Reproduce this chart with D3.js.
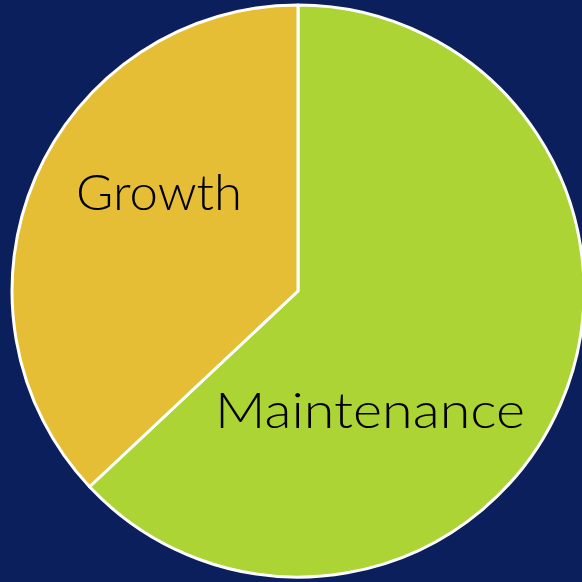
<!DOCTYPE html>
<html>
<head>
<meta charset="utf-8">
<script src="https://cdn.jsdelivr.net/npm/d3@7"></script>
<style>
html,body{margin:0;padding:0;background:#0a1f5c;}
svg{display:block;}
</style>
</head>
<body>
<svg id="chart" width="582" height="582"></svg>
<script>
const categories = ["Maintenance", "Growth"];
const values = [63, 37];
const colors = ["#acd434", "#e6be36"];

const W = 582, H = 582;
const cx = 298, cy = 291, R = 286;
// label anchor points (relative to pie center), start-anchored text
const labelLayout = [
  {dx: -83, dy: 137, width: 310},
  {dx: -222, dy: -81, width: 166}
];

const svg = d3.select("#chart");
svg.append("rect").attr("width", W).attr("height", H).attr("fill", "#0a1f5c");

const pie = d3.pie().sort(null).value(d => d)(values);
const arc = d3.arc().innerRadius(0).outerRadius(R);
const color = d3.scaleOrdinal().domain(categories).range(colors);

const g = svg.append("g").attr("transform", `translate(${cx},${cy})`);
g.selectAll("path").data(pie).join("path")
  .attr("d", arc)
  .attr("fill", (d, i) => color(categories[i]))
  .attr("stroke", "#ffffff")
  .attr("stroke-width", 3)
  .attr("stroke-linejoin", "round");

g.selectAll("text.lbl").data(pie).join("text")
  .attr("class", "lbl")
  .attr("x", (d, i) => labelLayout[i].dx)
  .attr("y", (d, i) => labelLayout[i].dy)
  .attr("textLength", (d, i) => labelLayout[i].width)
  .attr("lengthAdjust", "spacingAndGlyphs")
  .attr("font-family", "Lato, 'DejaVu Sans', sans-serif")
  .attr("font-weight", 300)
  .attr("font-size", 49)
  .attr("fill", "#000000")
  .text((d, i) => categories[i]);
</script>
</body>
</html>
